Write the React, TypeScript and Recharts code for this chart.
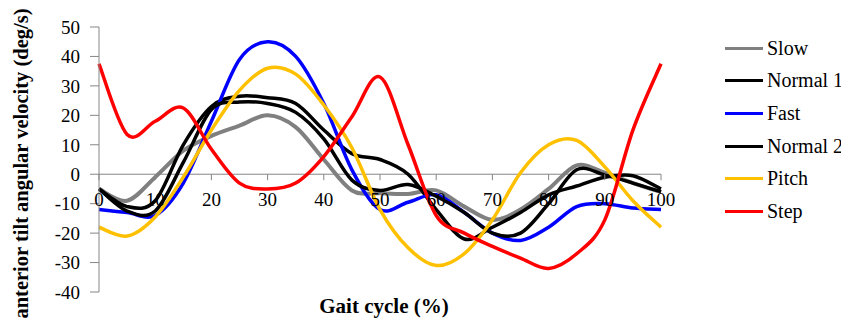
import React from 'react';
import { LineChart, Line, XAxis, YAxis, ReferenceLine, ReferenceDot, Legend } from 'recharts';

const gaitPct = [0, 5, 10, 15, 20, 25, 30, 35, 40, 45, 50, 55, 60, 65, 70, 75, 80, 85, 90, 95, 100];

const slow = [-5, -9, -1, 8, 13, 16.5, 20, 16, 5, -5.5, -6.5, -6.7, -5.5, -11, -15.5, -12, -5, 3, 0.5, -3, -6];
const normal1 = [-5, -11, -9, 10, 23, 26.5, 26, 24, 15, 7, 5, 0, -12, -22, -18, -13, -7, -4, -1, -0.5, -5];
const fast = [-12, -13, -14, -3, 18, 39, 45, 40, 24, 1.5, -12, -9.5, -7, -13, -20, -22.5, -18, -11, -10, -11.5, -12];
const normal2 = [-5, -12.5, -12.5, 4, 22, 24.5, 24, 21, 12, -2, -5.5, -3.5, -7.5, -13, -20, -20, -10, 1.5, -0.3, -3, -6];
const pitch = [-18, -21, -14.5, -1, 15, 28.5, 36, 34, 23.5, 9, -12, -25, -31, -27, -15.5, 0.5, 10, 11.5, 2.5, -9, -18];
const step = [37.5, 13.5, 18, 22.5, 8.5, -3, -5, -3, 6, 19.5, 33, 10, -14, -20, -24.5, -28.5, -32, -27, -15.5, 15, 37.5];

const xTicks = [0, 10, 20, 30, 40, 50, 60, 70, 80, 90, 100];
const yTicks = [-40, -30, -20, -10, 0, 10, 20, 30, 40, 50];

const series = [
  { key: 'slow', name: 'Slow', color: '#808080', values: slow, width: 4 },
  { key: 'normal1', name: 'Normal 1', color: '#000000', values: normal1, width: 3.5 },
  { key: 'fast', name: 'Fast', color: '#0000FF', values: fast, width: 3.5 },
  { key: 'normal2', name: 'Normal 2', color: '#000000', values: normal2, width: 3.5 },
  { key: 'pitch', name: 'Pitch', color: '#FFC000', values: pitch, width: 3.5 },
  { key: 'step', name: 'Step', color: '#FF0000', values: step, width: 3.5 },
];

const data = gaitPct.map((x, i) => {
  const row: any = { x };
  series.forEach(s => { row[s.key] = s.values[i]; });
  return row;
});

const FONT = 'Liberation Serif, Times New Roman, Tinos, serif';
const AXIS_GREY = '#868686';

// Excel-style smoothed line (Catmull-Rom through every point)
const smoothCurve: any = (context: any) => {
  let pts: number[][] = [];
  return {
    areaStart() {},
    areaEnd() {},
    lineStart() { pts = []; },
    point(x: number, y: number) { pts.push([x, y]); },
    lineEnd() {
      if (!pts.length) return;
      context.moveTo(pts[0][0], pts[0][1]);
      for (let i = 0; i < pts.length - 1; i++) {
        const p0 = pts[i - 1] || pts[i];
        const p1 = pts[i];
        const p2 = pts[i + 1];
        const p3 = pts[i + 2] || p2;
        context.bezierCurveTo(
          p1[0] + (p2[0] - p0[0]) / 6, p1[1] + (p2[1] - p0[1]) / 6,
          p2[0] - (p3[0] - p1[0]) / 6, p2[1] - (p3[1] - p1[1]) / 6,
          p2[0], p2[1]
        );
      }
    },
  };
};

const XTickMark = (props: any) => {
  const { cx, cy, value } = props;
  return (
    <g>
      <line x1={cx} y1={cy} x2={cx} y2={cy + 6} stroke={AXIS_GREY} strokeWidth={1} />
      <text x={cx} y={cy + 32} textAnchor="middle" fontSize={19} fontFamily={FONT} fill="#000">{value}</text>
    </g>
  );
};

const YLabel = (props: any) => {
  const { viewBox } = props;
  const x = viewBox.x - 11;
  const y = viewBox.y + viewBox.height / 2 + 4;
  return (
    <text x={x} y={y} transform={`rotate(-90, ${x}, ${y})`} textAnchor="middle" fontSize={20.5} fontWeight="bold" fontFamily={FONT} fill="#000">
      anterior tilt angular velocity (deg/s)
    </text>
  );
};

const XLabel = (props: any) => {
  const { viewBox } = props;
  return (
    <text x={viewBox.x + viewBox.width / 2 + 4} y={viewBox.y + 21} textAnchor="middle" fontSize={21} fontWeight="bold" fontFamily={FONT} fill="#000">
      Gait cycle (%)
    </text>
  );
};

const LegendBox = () => (
  <div style={{ fontFamily: FONT, fontSize: 20, color: '#000' }}>
    {series.map(s => (
      <div key={s.key} style={{ display: 'flex', alignItems: 'center', height: 32.6, whiteSpace: 'nowrap' }}>
        <div style={{ width: 38, height: 3, background: s.color, marginRight: 4 }} />
        <span>{s.name}</span>
      </div>
    ))}
  </div>
);

export default function App() {
  return (
    <div style={{ width: 841, height: 313, fontFamily: FONT }}>
      <LineChart width={841} height={313} data={data} margin={{ top: 19, right: 188, bottom: 0, left: 31 }}>
        <XAxis
          dataKey="x"
          type="number"
          domain={[0, 100]}
          ticks={xTicks}
          tick={false}
          tickLine={false}
          axisLine={false}
          height={29}
          label={<XLabel />}
        />
        <YAxis
          type="number"
          domain={[-40, 50]}
          ticks={yTicks}
          interval={0}
          width={60}
          tickSize={9}
          tickMargin={10}
          stroke={AXIS_GREY}
          tick={{ fill: '#000', fontSize: 19, fontFamily: FONT }}
          label={<YLabel />}
        />
        <ReferenceLine y={0} stroke={AXIS_GREY} strokeWidth={1} />
        {xTicks.map(t => (
          <ReferenceDot key={t} x={t} y={0} r={0} ifOverflow="visible" shape={(p: any) => <XTickMark {...p} value={t} />} />
        ))}
        {series.map(s => (
          <Line
            key={s.key}
            dataKey={s.key}
            name={s.name}
            type={smoothCurve}
            stroke={s.color}
            strokeWidth={s.width}
            dot={false}
            activeDot={false}
            isAnimationActive={false}
          />
        ))}
        <Legend
          layout="horizontal"
          align="center"
          verticalAlign="middle"
          content={<LegendBox />}
          wrapperStyle={{ left: 717, top: 24, width: 124, height: 200 }}
        />
      </LineChart>
    </div>
  );
}
